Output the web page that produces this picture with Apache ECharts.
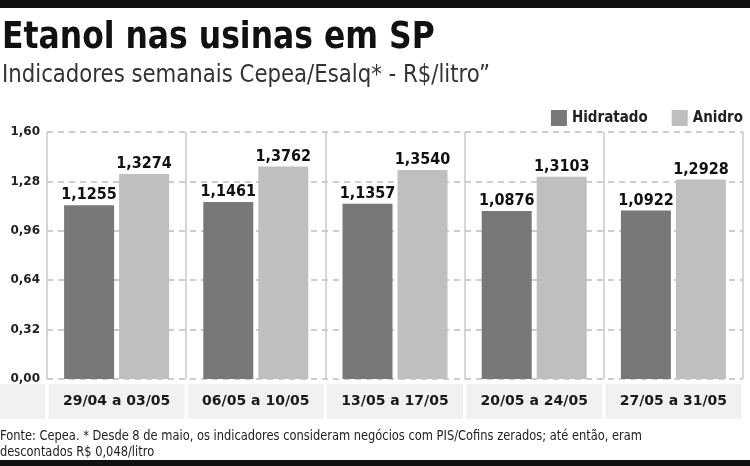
<!DOCTYPE html>
<html>
<head>
<meta charset="utf-8">
<script src="https://cdn.jsdelivr.net/npm/echarts@6/dist/echarts.min.js"></script>
<style>
  html, body { margin: 0; padding: 0; background: #fff; }
  #chart { width: 750px; height: 466px; }
</style>
</head>
<body>
<div id="chart"></div>
<script>
// dados do gráfico
const semanas = ['29/04 a 03/05', '06/05 a 10/05', '13/05 a 17/05', '20/05 a 24/05', '27/05 a 31/05']
const hidratado = [1.1255, 1.1461, 1.1357, 1.0876, 1.0922]
const anidro = [1.3274, 1.3762, 1.3540, 1.3103, 1.2928]
const seriesNames = ['Hidratado', 'Anidro']

const cond = '"DejaVu Sans Condensed", "Liberation Sans Narrow", sans-serif'
const fmt = (v, d) => v.toFixed(d).replace('.', ',')

const chart = echarts.init(document.getElementById('chart'), null, { renderer: 'canvas' })

const valueLabel = {
  show: true,
  position: 'top',
  distance: 2,
  color: '#111',
  fontFamily: cond,
  fontWeight: 'bold',
  fontSize: 16,
  formatter: p => fmt(p.value, 4)
}

const option = {
  backgroundColor: '#fff',
  animation: false,
  graphic: [
    { type: 'rect', left: 0, top: 0, shape: { width: 750, height: 8 }, style: { fill: '#111' } },
    { type: 'rect', left: 0, top: 460, shape: { width: 750, height: 6 }, style: { fill: '#111' } },
    { type: 'rect', left: 0, top: 384, shape: { width: 45, height: 35 }, style: { fill: '#f1f1f1' } },
    // título e subtítulo (texto condensado)
    {
      type: 'text', x: 2, y: 38, scaleX: 0.92,
      style: { text: 'Etanol nas usinas em SP', font: 'bold 38px ' + cond, fill: '#111', verticalAlign: 'middle' }
    },
    {
      type: 'text', x: 2, y: 75, scaleX: 0.945,
      style: { text: 'Indicadores semanais Cepea/Esalq* - R$/litro”', font: 'normal 25px ' + cond, fill: '#333', verticalAlign: 'middle' }
    },
    {
      type: 'text', x: 0, y: 428, scaleX: 0.91,
      style: {
        text: 'Fonte: Cepea. * Desde 8 de maio, os indicadores consideram negócios com PIS/Cofins zerados; até então, eram\ndescontados R$ 0,048/litro',
        font: 'normal 14px ' + cond, fill: '#222', lineHeight: 16, verticalAlign: 'top'
      }
    }
  ],
  legend: {
    data: seriesNames,
    right: 2,
    top: 105,
    icon: 'rect',
    itemWidth: 16,
    itemHeight: 16,
    itemGap: 24,
    textStyle: { fontFamily: cond, fontWeight: 'bold', fontSize: 15, color: '#222' }
  },
  grid: { left: 47, right: 7, top: 132, bottom: 87, containLabel: false },
  xAxis: {
    type: 'category',
    data: semanas,
    axisLine: { show: false },
    axisTick: { show: false },
    splitLine: { show: true, lineStyle: { color: '#c9c9c9', width: 1.5 } },
    axisLabel: {
      interval: 0,
      margin: 5,
      color: '#1a1a1a',
      fontFamily: '"DejaVu Sans", sans-serif',
      fontWeight: 'bold',
      fontSize: 14,
      backgroundColor: '#f1f1f1',
      width: 136,
      height: 35,
      lineHeight: 35,
      align: 'center'
    }
  },
  yAxis: {
    type: 'value',
    min: 0,
    max: 1.6,
    interval: 0.32,
    axisLine: { show: false },
    axisTick: { show: false },
    splitLine: { show: true, lineStyle: { color: '#bdbdbd', width: 1.5, type: [6, 5] } },
    axisLabel: {
      margin: 7,
      color: '#222',
      fontFamily: '"DejaVu Sans", sans-serif',
      fontWeight: 'bold',
      fontSize: 12,
      formatter: v => fmt(v, 2)
    }
  },
  series: [
    {
      name: seriesNames[0],
      type: 'bar',
      data: hidratado,
      barWidth: 50,
      barGap: '10%',
      itemStyle: { color: '#787878' },
      label: valueLabel
    },
    {
      name: seriesNames[1],
      type: 'bar',
      data: anidro,
      barWidth: 50,
      itemStyle: { color: '#bfbfbf' },
      label: valueLabel
    }
  ]
}

chart.setOption(option)
</script>
</body>
</html>
